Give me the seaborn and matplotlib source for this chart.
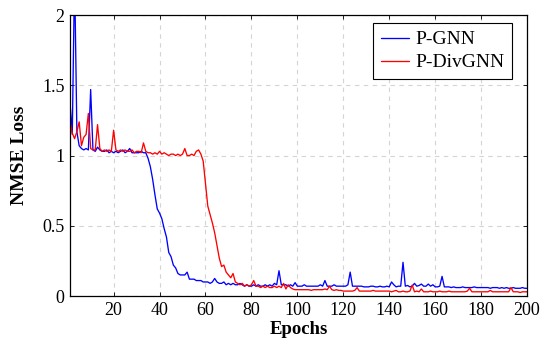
"""
plot.py - NMSE loss vs. epochs for P-GNN and P-DivGNN.
"""

import numpy as np
import pandas as pd
import matplotlib
matplotlib.use("Agg")
import matplotlib.pyplot as plt
import seaborn as sns

# ---- data -------------------------------------------------------------
epochs = list(range(1, 201))

p_gnn = [
    1.38, 1.15, 2.30, 1.17, 1.07, 1.05, 1.04, 1.05, 1.04, 1.47,
    1.04, 1.03, 1.06, 1.04, 1.03, 1.03, 1.04, 1.02, 1.03, 1.02,
    1.03, 1.02, 1.03, 1.04, 1.02, 1.03, 1.05, 1.02, 1.02, 1.02,
    1.02, 1.03, 1.02, 1.02, 0.98, 0.92, 0.83, 0.72, 0.62, 0.59,
    0.55, 0.48, 0.42, 0.31, 0.28, 0.22, 0.20, 0.16, 0.15, 0.15,
    0.15, 0.17, 0.12, 0.12, 0.12, 0.11, 0.11, 0.11, 0.10, 0.10,
    0.10, 0.09, 0.10, 0.125, 0.10, 0.09, 0.09, 0.10, 0.08, 0.09,
    0.08, 0.09, 0.08, 0.08, 0.09, 0.08, 0.07, 0.08, 0.07, 0.07,
    0.08, 0.07, 0.08, 0.07, 0.07, 0.08, 0.07, 0.08, 0.07, 0.09,
    0.08, 0.18, 0.08, 0.08, 0.08, 0.07, 0.08, 0.07, 0.095, 0.07,
    0.07, 0.07, 0.08, 0.07, 0.07, 0.07, 0.07, 0.07, 0.07, 0.08,
    0.07, 0.11, 0.07, 0.07, 0.07, 0.08, 0.07, 0.07, 0.07, 0.07,
    0.07, 0.08, 0.17, 0.07, 0.07, 0.07, 0.07, 0.07, 0.065, 0.065,
    0.065, 0.07, 0.07, 0.065, 0.065, 0.07, 0.065, 0.065, 0.07, 0.065,
    0.10, 0.08, 0.065, 0.07, 0.07, 0.24, 0.07, 0.075, 0.065, 0.07,
    0.09, 0.07, 0.075, 0.085, 0.07, 0.07, 0.085, 0.07, 0.08, 0.065,
    0.065, 0.07, 0.14, 0.065, 0.065, 0.065, 0.06, 0.065, 0.06, 0.06,
    0.06, 0.065, 0.06, 0.06, 0.06, 0.06, 0.065, 0.06, 0.06, 0.06,
    0.06, 0.06, 0.06, 0.055, 0.06, 0.06, 0.06, 0.055, 0.06, 0.055,
    0.06, 0.055, 0.055, 0.06, 0.055, 0.055, 0.055, 0.06, 0.055, 0.055,
]

p_divgnn = [
    1.24, 1.16, 1.12, 1.17, 1.24, 1.07, 1.13, 1.15, 1.30, 1.05,
    1.04, 1.04, 1.22, 1.05, 1.03, 1.04, 1.03, 1.04, 1.03, 1.18,
    1.04, 1.03, 1.04, 1.03, 1.04, 1.03, 1.03, 1.04, 1.02, 1.03,
    1.03, 1.02, 1.09, 1.03, 1.02, 1.02, 1.01, 1.02, 1.01, 1.03,
    1.01, 1.02, 1.01, 1.00, 1.01, 1.01, 1.00, 1.01, 1.00, 1.01,
    1.05, 1.00, 1.00, 1.01, 1.00, 1.03, 1.04, 1.01, 0.96, 0.80,
    0.64, 0.58, 0.52, 0.45, 0.36, 0.27, 0.21, 0.22, 0.17, 0.15,
    0.13, 0.16, 0.10, 0.09, 0.08, 0.09, 0.07, 0.08, 0.07, 0.08,
    0.11, 0.07, 0.07, 0.06, 0.07, 0.06, 0.07, 0.06, 0.06, 0.07,
    0.06, 0.07, 0.06, 0.09, 0.05, 0.08, 0.06, 0.05, 0.045, 0.045,
    0.045, 0.045, 0.045, 0.045, 0.045, 0.04, 0.045, 0.045, 0.045, 0.045,
    0.045, 0.05, 0.045, 0.07, 0.045, 0.04, 0.045, 0.04, 0.04, 0.035,
    0.035, 0.035, 0.035, 0.035, 0.04, 0.06, 0.035, 0.035, 0.035, 0.035,
    0.035, 0.035, 0.04, 0.035, 0.035, 0.035, 0.035, 0.035, 0.035, 0.035,
    0.03, 0.035, 0.04, 0.03, 0.03, 0.035, 0.03, 0.03, 0.035, 0.078,
    0.03, 0.035, 0.03, 0.05, 0.03, 0.03, 0.03, 0.035, 0.03, 0.03,
    0.03, 0.035, 0.03, 0.03, 0.03, 0.035, 0.03, 0.03, 0.03, 0.03,
    0.03, 0.03, 0.03, 0.035, 0.055, 0.03, 0.03, 0.03, 0.03, 0.03,
    0.03, 0.03, 0.03, 0.04, 0.03, 0.03, 0.03, 0.03, 0.03, 0.03,
    0.03, 0.03, 0.06, 0.03, 0.03, 0.03, 0.025, 0.03, 0.03, 0.03,
]

series_names = ["P-GNN", "P-DivGNN"]
series_colors = {"P-GNN": "#0000ff", "P-DivGNN": "#ff0000"}
x_ticks = [20, 40, 60, 80, 100, 120, 140, 160, 180, 200]
y_ticks = [0, 0.5, 1, 1.5, 2]
y_tick_labels = ["0", "0.5", "1", "1.5", "2"]

df = pd.DataFrame({
    "Epochs": epochs * 2,
    "NMSE Loss": p_gnn + p_divgnn,
    "Model": [series_names[0]] * len(p_gnn) + [series_names[1]] * len(p_divgnn),
})

# ---- style ------------------------------------------------------------
sns.set_theme(style="ticks")
plt.rcParams["font.family"] = ["Liberation Serif", "DejaVu Serif"]
plt.rcParams["text.color"] = "black"
plt.rcParams["axes.labelcolor"] = "black"

fig = plt.figure(figsize=(5.4, 3.43), dpi=100)
ax = fig.add_axes([0.1296, 0.137, 0.8464, 0.819])

sns.lineplot(
    data=df, x="Epochs", y="NMSE Loss", hue="Model",
    hue_order=series_names, palette=series_colors,
    linewidth=0.95, ax=ax, legend=True,
)

ax.set_xlim(1, 200)
ax.set_ylim(0, 2)
ax.set_xticks(x_ticks)
ax.set_yticks(y_ticks)
ax.set_yticklabels(y_tick_labels)
ax.grid(True, linestyle=(0, (4, 4)), color="#d4d4d4", linewidth=0.8)
ax.set_axisbelow(True)
ax.tick_params(direction="in", top=True, right=True, length=3,
               width=0.6, labelsize=13, colors="black", pad=4)
for s in ax.spines.values():
    s.set_color("black")
    s.set_linewidth(0.9)

ax.set_xlabel("Epochs", fontsize=13.5, fontweight="bold", labelpad=2)
ax.set_ylabel("NMSE Loss", fontsize=14, fontweight="bold", labelpad=10)

leg = ax.legend(loc="upper right", bbox_to_anchor=(0.967, 0.972),
                fontsize=14, frameon=True, fancybox=False,
                edgecolor="black", framealpha=1, handlelength=1.45,
                borderpad=0.4, labelspacing=0.28, handletextpad=0.3,
                borderaxespad=0)
leg.get_frame().set_linewidth(0.8)

fig.savefig("out.png", dpi=100)
plt.close(fig)
